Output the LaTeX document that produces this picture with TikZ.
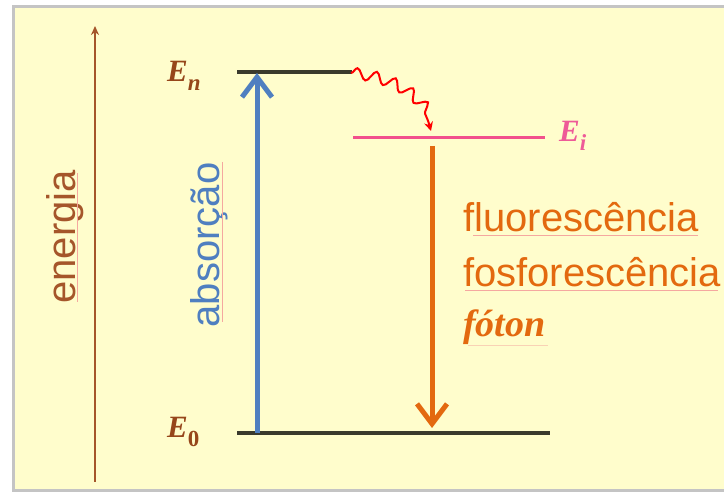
\documentclass[tikz,border=0pt]{standalone}
\usepackage{fontspec}
\setmainfont{Liberation Serif}
\newfontfamily\arialf{Liberation Sans}
\usetikzlibrary{arrows.meta,decorations.pathmorphing}
\definecolor{bgyel}{HTML}{FFFDCC}
\definecolor{frameg}{HTML}{C4C4C4}
\definecolor{brn}{HTML}{A5562A}
\definecolor{lbl}{HTML}{96461A}
\definecolor{blu}{HTML}{4F7FC0}
\definecolor{org}{HTML}{E3690F}
\definecolor{pnk}{HTML}{F2508C}
\definecolor{pnkt}{HTML}{EE5A98}
\definecolor{lvl}{HTML}{3A3A2C}
\definecolor{squig}{HTML}{F5A8A0}
\tikzset{
  levelline/.style={draw=lvl, line width=4pt},
  bigarrow/.style={line width=5pt, -{Straight Barb[length=20pt,width=30pt]}},
  sanstxt/.style={font=\arialf\fontsize{40}{46}\selectfont, inner sep=0pt},
  elabel/.style={font=\bfseries\itshape\fontsize{31}{34}\selectfont, inner sep=0pt, anchor=base west},
  spell/.style={draw=squig, line width=1pt},
}
\newcommand{\subsc}[1]{\raisebox{-0.27em}{\fontsize{23}{23}\selectfont #1}}
\begin{document}
\begin{tikzpicture}[x=1pt,y=-1pt]
\useasboundingbox (0,0) rectangle (724,494);
\fill[white] (0,0) rectangle (724,494);
\draw[fill=bgyel, draw=frameg, line width=3pt] (13,7) rectangle (740,491);

% energy axis
\coordinate (ax0) at (95,482);
\coordinate (ax1) at (95,26);
\draw[brn, line width=2.6pt, -{Stealth[length=9pt,width=8pt]}] (ax0) -- (ax1);
\node[sanstxt, text=brn, rotate=90, anchor=base] (energia) at (75,237) {energia};
\draw[spell] (77.5,173) -- (77.5,302);

% levels
\coordinate (EnL) at (237,72);
\coordinate (EnR) at (352,72);
\coordinate (EiL) at (353,138);
\coordinate (EiR) at (545,138);
\coordinate (E0L) at (237,433);
\coordinate (E0R) at (550,433);
\draw[levelline] (EnL) -- (EnR);
\draw[draw=pnk, line width=3pt] (EiL) -- (EiR);
\draw[levelline] (E0L) -- (E0R);

\node[elabel, text=lbl] (lEn) at (167,82) {E\subsc{n}};
\node[elabel, text=lbl] (lE0) at (167,438) {E\subsc{\upshape 0}};
\node[elabel, text=pnkt] (lEi) at (559,142) {E\subsc{i}};

% absorption
\coordinate (ab0) at (257,433);
\coordinate (ab1) at (257,73);
\draw[blu, bigarrow] (ab0) -- (ab1);
\node[sanstxt, text=blu, rotate=90, anchor=base] (abs) at (219,245) {absorção};
\draw[spell] (222,162) -- (222,322);

% wavy relaxation
\coordinate (w0) at (351,73);
\coordinate (w1) at (431,131);
\draw[red, line width=2pt, -{Stealth[length=9pt,width=9pt]},
  decorate, decoration={snake, amplitude=5.5pt, segment length=19pt, post length=10pt}]
  (w0) .. controls (395,78) and (425,100) .. (w1);

% emission
\coordinate (em0) at (432,146);
\coordinate (em1) at (432,428);
\draw[org, bigarrow] (em0) -- (em1);

\node[sanstxt, text=org, anchor=base west] (fluo) at (463,232) {fluorescência};
\node[sanstxt, text=org, anchor=base west] (fosf) at (463,287) {fosforescência};
\node[font=\bfseries\itshape\fontsize{38}{42}\selectfont, inner sep=0pt, text=org, anchor=base west] (foton) at (463,337) {fóton};
\draw[spell] (473,236) -- (698,236);
\draw[spell] (465,291) -- (718,291);
\draw[spell, draw opacity=0.5] (468,346) -- (548,346);
\end{tikzpicture}
\end{document}
